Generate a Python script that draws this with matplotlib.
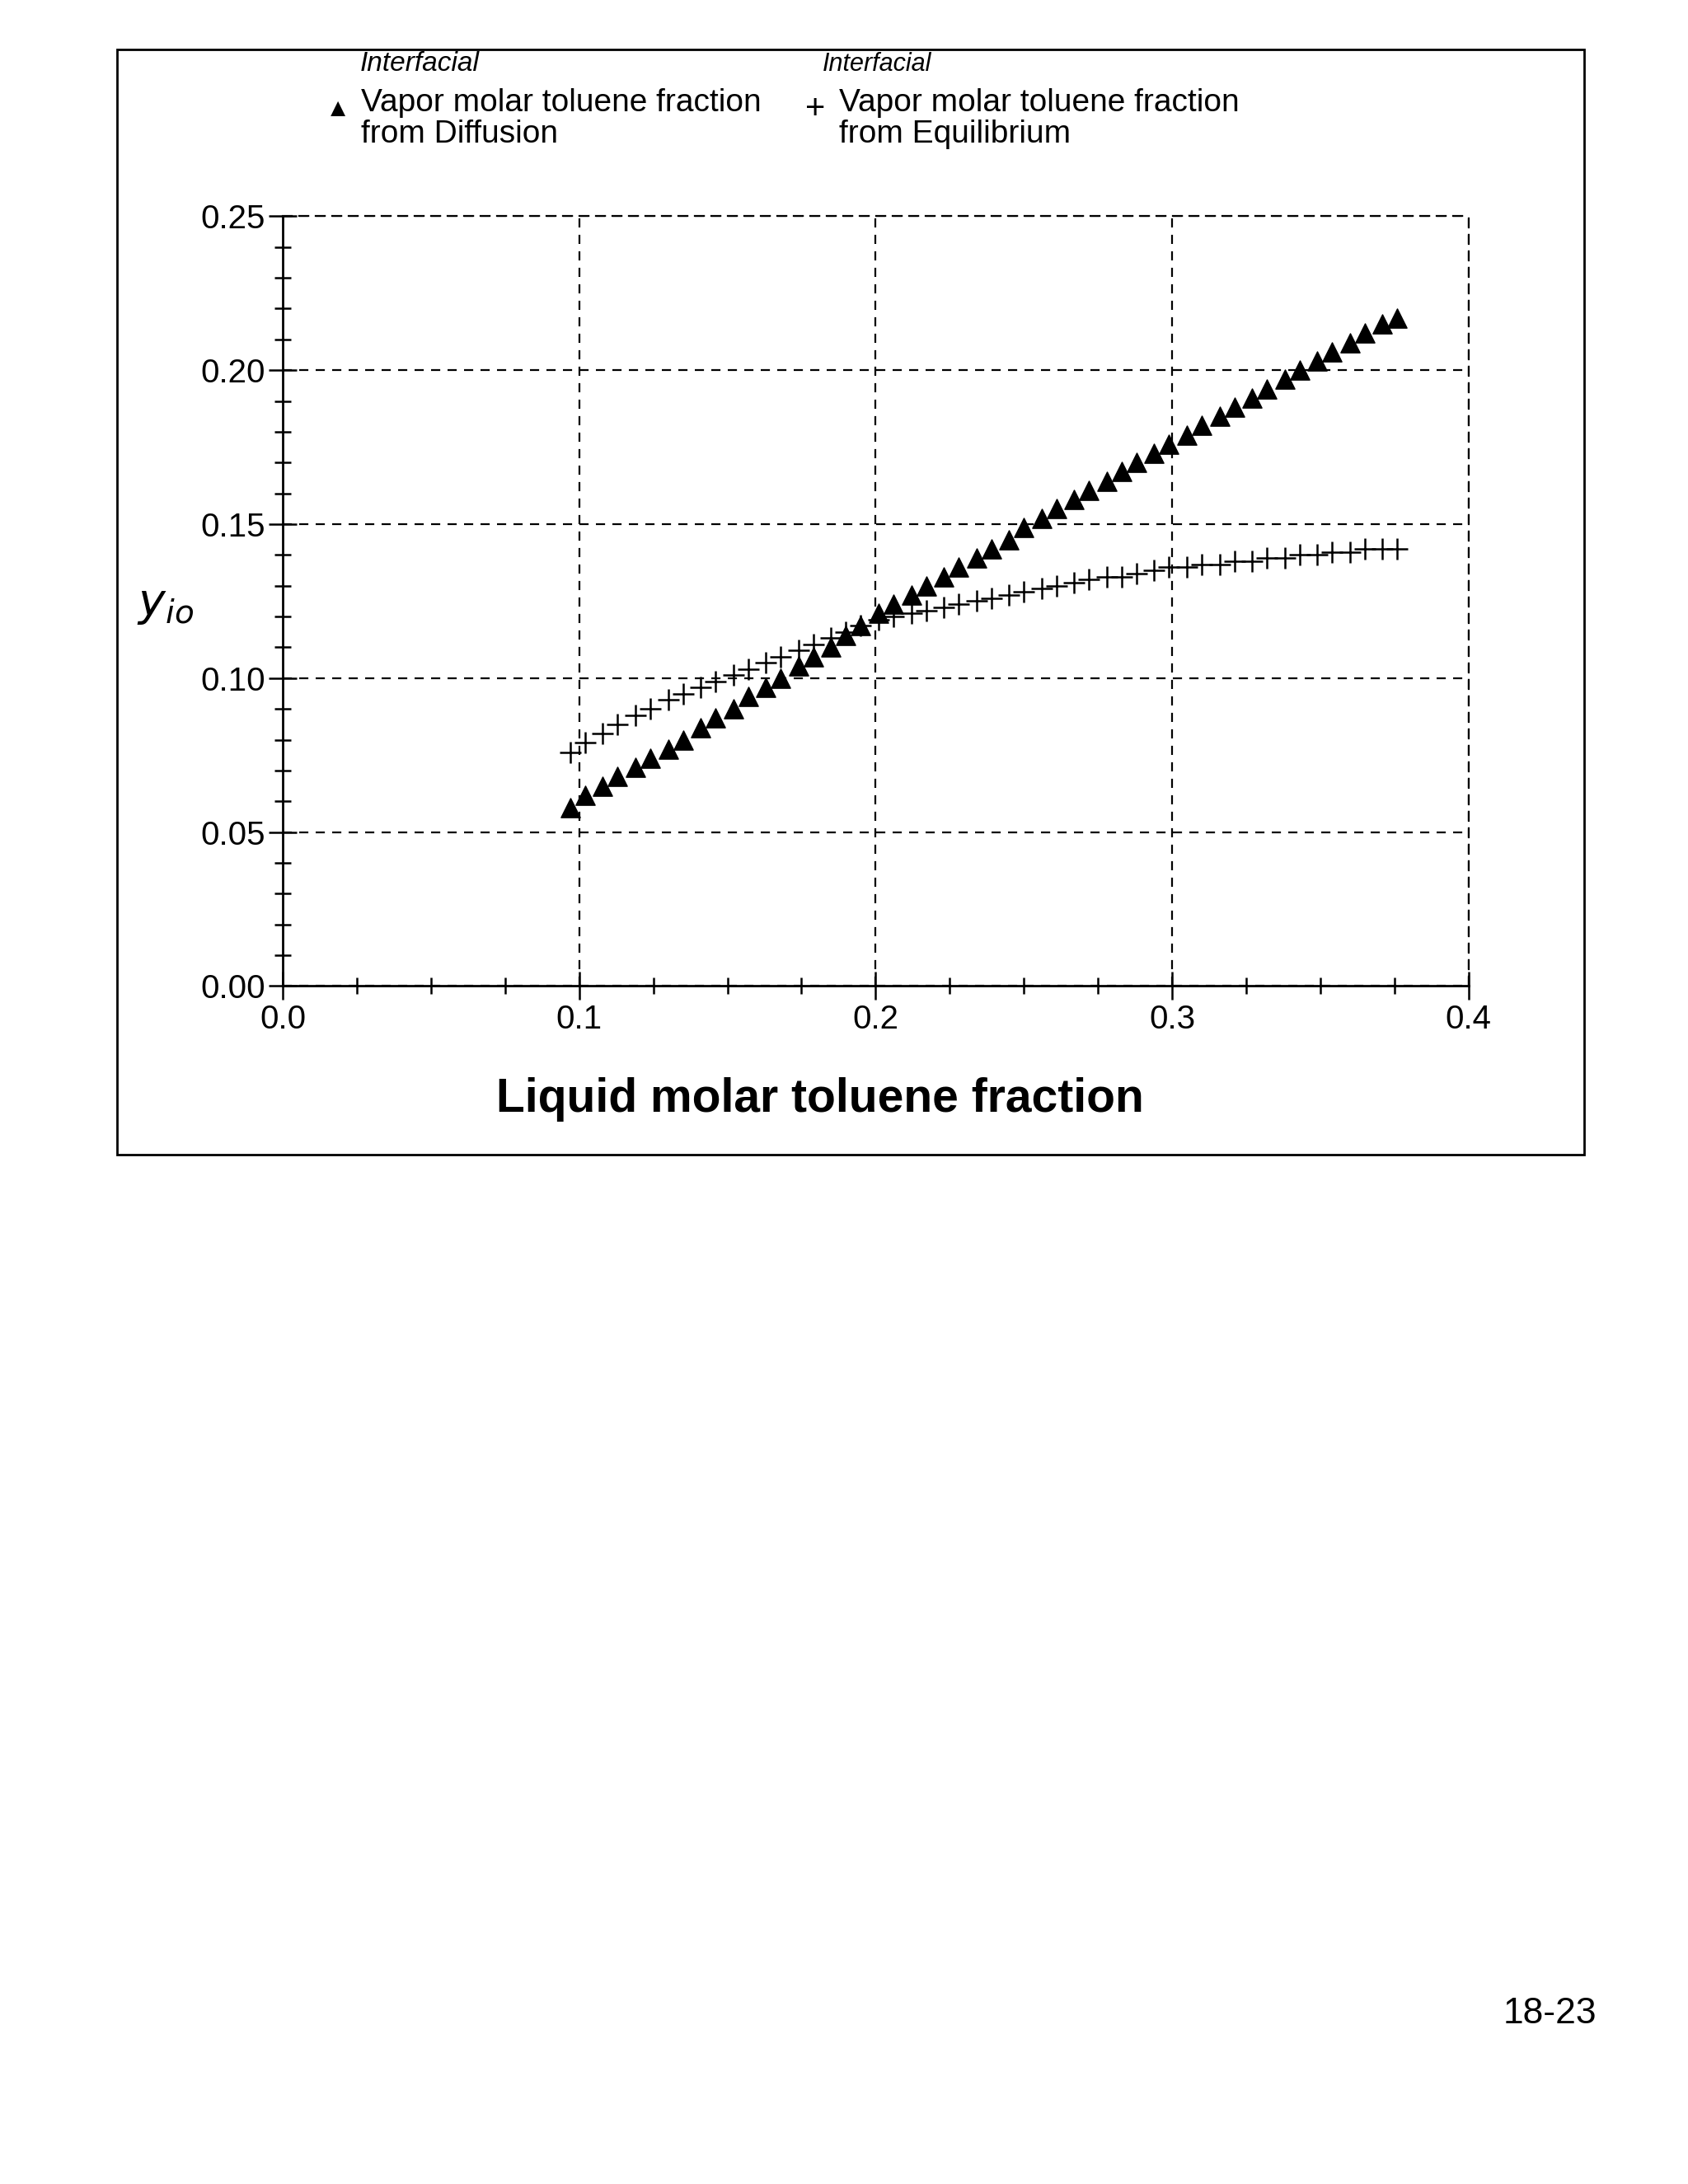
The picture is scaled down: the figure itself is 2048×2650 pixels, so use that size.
import matplotlib
matplotlib.use("Agg")
import matplotlib.pyplot as plt
from matplotlib.ticker import MultipleLocator
from matplotlib.patches import Rectangle

plt.rcParams['font.family'] = ['Liberation Sans', 'DejaVu Sans']

x_liquid = [0.097,0.102,0.108,0.113,0.119,0.124,0.130,0.135,0.141,0.146,0.152,0.157,0.163,
            0.168,0.174,0.179,0.185,0.190,0.195,0.201,0.206,0.212,0.217,0.223,0.228,0.234,
            0.239,0.245,0.250,0.256,0.261,0.267,0.272,0.278,0.283,0.288,0.294,0.299,0.305,
            0.310,0.316,0.321,0.327,0.332,0.338,0.343,0.349,0.354,0.360,0.365,0.371,0.376]
y_diffusion = [0.058,0.062,0.065,0.068,0.071,0.074,0.077,0.080,0.084,0.087,0.090,0.094,0.097,
               0.100,0.104,0.107,0.110,0.114,0.117,0.121,0.124,0.127,0.130,0.133,0.136,0.139,
               0.142,0.145,0.149,0.152,0.155,0.158,0.161,0.164,0.167,0.170,0.173,0.176,0.179,
               0.182,0.185,0.188,0.191,0.194,0.197,0.200,0.203,0.206,0.209,0.212,0.215,0.217]
y_equilibrium = [0.076,0.079,0.082,0.085,0.088,0.090,0.093,0.095,0.097,0.099,0.101,0.103,0.105,
                 0.107,0.109,0.111,0.113,0.115,0.117,0.119,0.120,0.121,0.122,0.123,0.124,0.125,
                 0.126,0.127,0.128,0.129,0.130,0.131,0.132,0.133,0.133,0.134,0.135,0.136,0.136,
                 0.137,0.137,0.138,0.138,0.139,0.139,0.140,0.140,0.141,0.141,0.142,0.142,0.142]
x_ticks = [0.0, 0.1, 0.2, 0.3, 0.4]
y_ticks = [0.00, 0.05, 0.10, 0.15, 0.20, 0.25]

fig = plt.figure(figsize=(20.48, 26.5), dpi=100)
fig.patches.append(Rectangle((0.0694, 1-0.5285), 0.9385-0.0694, 0.5285-0.0227,
                             transform=fig.transFigure, fill=False, lw=2, ec='black'))
ax = fig.add_axes([0.1675, 0.5485, 0.870-0.1675, 0.3525])
ax.scatter(x_liquid, y_diffusion, marker='^', s=280, c='black', zorder=3)
ax.scatter(x_liquid, y_equilibrium, marker='+', s=360, c='black', linewidths=1.8, zorder=3)
ax.set_xlim(0, 0.4); ax.set_ylim(0, 0.25)
ax.set_xticks(x_ticks); ax.set_xticklabels([f"{v:.1f}" for v in x_ticks])
ax.set_yticks(y_ticks); ax.set_yticklabels([f"{v:.2f}" for v in y_ticks])
ax.xaxis.set_minor_locator(MultipleLocator(0.025))
ax.yaxis.set_minor_locator(MultipleLocator(0.01))
ax.tick_params(which='both', direction='inout', labelsize=29, width=1.8)
ax.tick_params(which='major', length=24)
ax.tick_params(which='minor', length=14)
ax.grid(True, which='major', ls=(0, (5, 4)), color='black', lw=1.6)
for s in ['top', 'right']:
    ax.spines[s].set_linestyle((0, (5, 4))); ax.spines[s].set_linewidth(1.6)
for s in ['left', 'bottom']:
    ax.spines[s].set_linewidth(2)
ax.set_xlabel("Liquid molar toluene fraction", fontsize=41, fontweight='bold')
ax.xaxis.set_label_coords(0.453, -0.118)
fig.text(0.098, 0.723, "$y_{io}$", fontsize=40, ha='center', va='center')

fig.text(0.200, 0.9497, "▲", fontsize=22, va='center', ha='center')
fig.text(0.214, 0.9595, "Vapor molar toluene fraction\nfrom Diffusion", fontsize=28,
         va='top', ha='left', linespacing=1.05)
fig.text(0.483, 0.9497, "+", fontsize=30, va='center', ha='center')
fig.text(0.497, 0.9595, "Vapor molar toluene fraction\nfrom Equilibrium", fontsize=28,
         va='top', ha='left', linespacing=1.05)
fig.text(0.213, 0.9650, "Interfacial", fontsize=24, style='italic', va='bottom', ha='left')
fig.text(0.487, 0.9650, "Interfacial", fontsize=22, style='italic', va='bottom', ha='left')
fig.text(0.918, 0.078, "18-23", fontsize=32, va='center', ha='center')
fig.savefig("out.png", dpi=100)
